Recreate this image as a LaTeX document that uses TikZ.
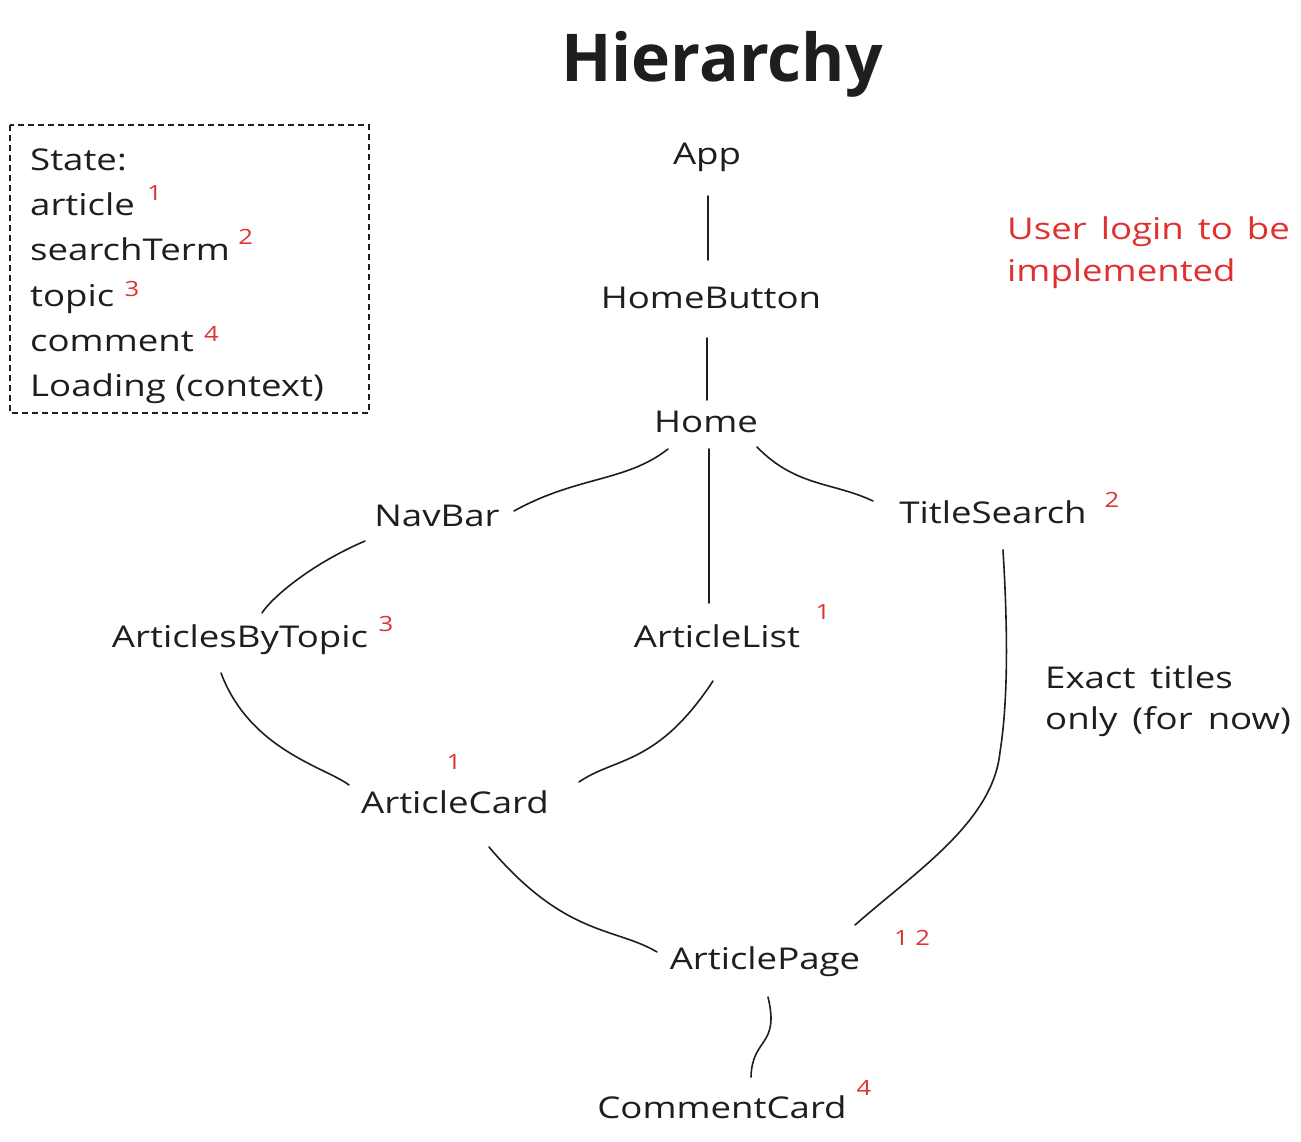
\documentclass[tikz,border=0pt]{standalone}
\usepackage{fontspec}
\setmainfont{Open Sans}[FakeStretch=1.22]
\newfontfamily\mytitlefont{Open Sans}
\usetikzlibrary{calc}
\definecolor{redink}{HTML}{E03131}
\definecolor{ink}{HTML}{1E1E1E}
\newcommand\myspA{\spaceskip 14pt\relax}
\newcommand\myspB{\spaceskip 15pt\relax}
\begin{document}
\begin{tikzpicture}[x=1pt,y=-1pt,
  lbl/.style={font=\fontsize{30}{32}\selectfont, inner sep=0pt, text=ink},
  stl/.style={font=\fontsize{30}{32}\selectfont, inner sep=0pt, text=ink, anchor=base west},
  rnum/.style={text=redink, font=\fontsize{21}{22}\selectfont, inner sep=0pt},
  snum/.style={text=redink, font=\fontsize{21}{22}\selectfont, inner sep=0pt, anchor=base west},
  note/.style={inner sep=0pt, align=left},
  link/.style={line width=1.6pt, line cap=round, draw=ink}]
\useasboundingbox (0,0) rectangle (1301,1142);
\fill[white] (0,0) rectangle (1301,1142);

\node[font=\fontsize{66}{68}\selectfont\mytitlefont\bfseries, text=ink, inner sep=0pt] (title) at (722,64) {Hierarchy};

% state box
\draw[line width=1.4pt, draw=ink, dash pattern=on 6pt off 4pt] (10,125) rectangle (369,413);
\node[stl] (st0) at (30,171) {State:};
\node[stl] (st1) at (30,216) {article};
\node[stl] (st2) at (30,261) {searchTerm};
\node[stl] (st3) at (30,306) {topic};
\node[stl] (st4) at (30,351) {comment};
\node[stl] (st5) at (30,396) {Loading (context)};
\node[snum] (s1) at ($(st1.base east)+(12,-15)$) {1};
\node[snum] (s2) at ($(st2.base east)+(8,-17)$) {2};
\node[snum] (s3) at ($(st3.base east)+(10,-10)$) {3};
\node[snum] (s4) at ($(st4.base east)+(10,-10)$) {4};

% notes
\node[note, font=\fontsize{30}{42}\selectfont\myspA, text=redink, anchor=north west] (login) at (1007,217) {User login to be\\implemented};
\node[note, font=\fontsize{30}{41}\selectfont\myspB, text=ink, anchor=north west] (exact) at (1045,666) {Exact titles\\only (for now)};

% nodes
\node[lbl] (app) at (707,157) {App};
\node[lbl] (hb) at (711,298) {HomeButton};
\node[lbl] (home) at (706,422) {Home};
\node[lbl] (nav) at (437,516) {NavBar};
\node[lbl] (ts) at (993,512) {TitleSearch};
\node[rnum] (ts2) at (1112,500) {2};
\node[lbl] (abt) at (240,640) {ArticlesByTopic};
\node[rnum] (abt3) at (386,624) {3};
\node[lbl] (al) at (717,636) {ArticleList};
\node[rnum] (al1) at (823,612) {1};
\node[lbl] (ac) at (455,802) {ArticleCard};
\node[rnum] (ac1) at (454,762) {1};
\node[lbl] (ap) at (765,962) {ArticlePage};
\node[rnum] (ap12) at (912,938) {1 2};
\node[lbl] (cc) at (722,1107) {CommentCard};
\node[rnum] (cc4) at (864,1088) {4};

% connectors
\draw[link] ($(app)+(1,39)$) -- ($(hb)+(-3,-38)$);
\draw[link] ($(hb)+(-4,40)$) -- ($(home)+(1,-22)$);
\draw[link] ($(home)+(-38,27)$) .. controls ($(home)+(-80,60)$) and ($(nav)+(140,-40)$) .. ($(nav)+(77,-5)$);
\draw[link] ($(home)+(3,27)$) -- ($(al)+(-8,-33)$);
\draw[link] ($(home)+(51,25)$) .. controls ($(home)+(90,65)$) and ($(ts)+(-160,-30)$) .. ($(ts)+(-120,-11)$);
\draw[link] ($(nav)+(-72,25)$) .. controls ($(nav)+(-130,50)$) and ($(abt)+(30,-40)$) .. ($(abt)+(22,-27)$);
\draw[link] ($(abt)+(-19,33)$) .. controls ($(abt)+(10,110)$) and ($(ac)+(-130,-35)$) .. ($(ac)+(-106,-17)$);
\draw[link] ($(al)+(-4,45)$) .. controls ($(al)+(-60,130)$) and ($(ac)+(160,-45)$) .. ($(ac)+(124,-20)$);
\draw[link] ($(ac)+(34,45)$) .. controls ($(ac)+(110,135)$) and ($(ap)+(-150,-35)$) .. ($(ap)+(-108,-10)$);
\draw[link] ($(ts)+(10,38)$) .. controls ($(ts)+(15,120)$) and ($(ts)+(15,190)$) .. ($(ts)+(7,240)$) .. controls ($(ts)+(0,310)$) and ($(ap)+(150,-90)$) .. ($(ap)+(90,-37)$);
\draw[link] ($(ap)+(3,35)$) .. controls ($(ap)+(15,85)$) and ($(cc)+(30,-70)$) .. ($(cc)+(29,-30)$);
\end{tikzpicture}
\end{document}
